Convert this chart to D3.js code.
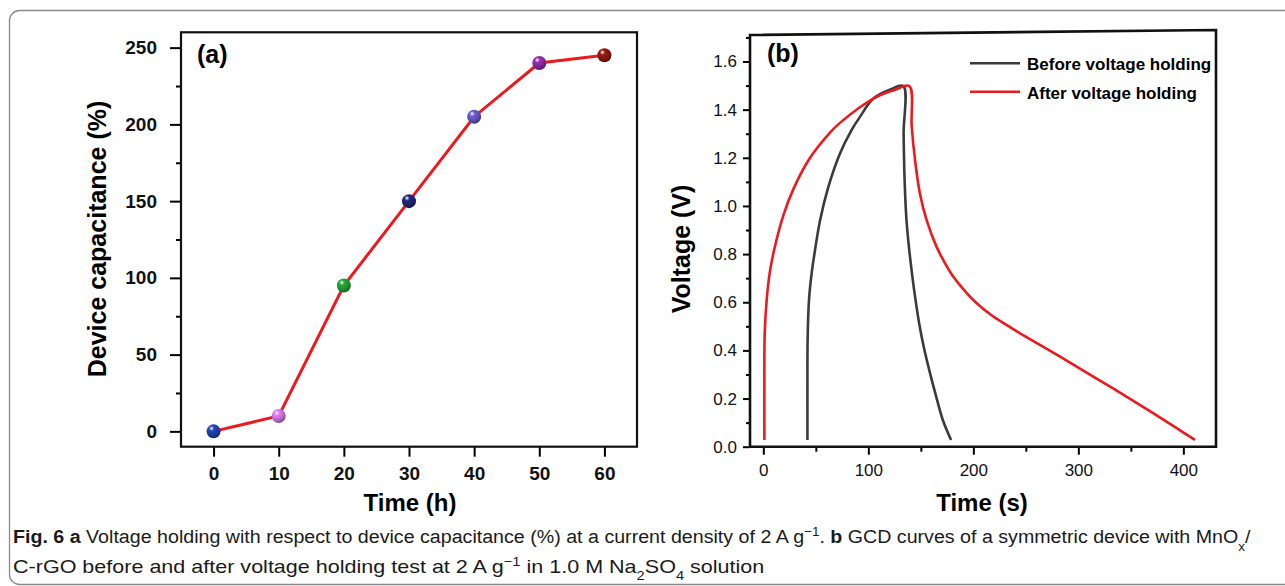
<!DOCTYPE html>
<html>
<head>
<meta charset="utf-8">
<script src="https://d3js.org/d3.v7.min.js"></script>
<style>
  body { margin: 0; background: #fff; }
  svg { display: block; font-family: "Liberation Sans", Arial, sans-serif; }
</style>
</head>
<body>
<div id="chart"></div>
<script>
// panel (a) data
var timeH = [0, 10, 20, 30, 40, 50, 60];
var capPct = [0, 10, 95, 150, 205, 240, 245];
var capTicks = [0, 50, 100, 150, 200, 250];
var hourTicks = [0, 10, 20, 30, 40, 50, 60];

// panel (b) data: GCD curves (charge then discharge)
var beforeT = [42, 42, 42.2, 43.5, 46, 49.2, 54, 62, 73, 84, 92, 105, 121, 133.3,
  133.6, 134.6, 136.2, 138.4, 141, 144.6, 148.5, 153, 158.5, 164.5, 171, 178.8];
var beforeV = [0.028, 0.2, 0.45, 0.61, 0.72, 0.816, 0.94, 1.08, 1.218, 1.315, 1.37, 1.447, 1.484, 1.498,
  1.30, 1.10, 0.95, 0.84, 0.74, 0.62, 0.51, 0.41, 0.31, 0.21, 0.11, 0.028];
var afterT = [1.0, 1.0, 1.3, 3.2, 6, 10.2, 19, 28.6, 44.5, 63.5, 73, 92, 111, 125, 139,
  141.3, 144.5, 149.2, 155.6, 165, 171.4, 180, 190, 203, 216.7, 230, 243, 281, 319, 357, 393.7, 411];
var afterV = [0.028, 0.25, 0.47, 0.61, 0.72, 0.816, 0.96, 1.07, 1.20, 1.305, 1.345, 1.41, 1.46, 1.482, 1.498,
  1.33, 1.19, 1.05, 0.94, 0.83, 0.775, 0.712, 0.657, 0.597, 0.548, 0.510, 0.475, 0.378, 0.279, 0.178, 0.077, 0.028];
var voltTicks = [0, 0.2, 0.4, 0.6, 0.8, 1.0, 1.2, 1.4, 1.6];
var secTicks = [0, 100, 200, 300, 400];
var seriesNames = ['Before voltage holding', 'After voltage holding'];

var ballColors = ['#1c3a9a', '#b565c8', '#1e8a2e', '#1c2266', '#5a4aa8', '#7b2590', '#7a1410'];

var svg = d3.select('#chart').append('svg')
  .attr('width', 1285)
  .attr('height', 586);

// outer card frame
svg.append('rect')
  .attr('x', 9.5).attr('y', 10.5)
  .attr('width', 1300).attr('height', 574)
  .attr('rx', 10)
  .attr('fill', 'none')
  .attr('stroke', '#8a8a8a')
  .attr('stroke-width', 1.3);

var defs = svg.append('defs');
ballColors.forEach(function(c, i) {
  var g = defs.append('radialGradient')
    .attr('id', 'ball' + i)
    .attr('cx', '38%').attr('cy', '32%').attr('r', '65%')
    .attr('fx', '35%').attr('fy', '28%');
  g.append('stop').attr('offset', '0%').attr('stop-color', '#ffffff');
  g.append('stop').attr('offset', '28%').attr('stop-color', d3.color(c).brighter(0.6));
  g.append('stop').attr('offset', '75%').attr('stop-color', c);
  g.append('stop').attr('offset', '100%').attr('stop-color', d3.color(c).darker(0.8));
});

// ---------- panel (a) ----------
var xA = d3.scaleLinear().domain([-5, 65]).range([181, 637]);
var yA = d3.scaleLinear().domain([-10, 260]).range([446.7, 32.3]);

var gA = svg.append('g');

// minor y ticks
gA.append('g')
  .attr('transform', 'translate(181,0)')
  .call(d3.axisLeft(yA).tickValues(d3.range(25, 250, 50)).tickSize(5).tickFormat(''))
  .call(function(g) { g.select('.domain').remove(); })
  .selectAll('line').attr('stroke-width', 2);

gA.append('g')
  .attr('transform', 'translate(181,0)')
  .call(d3.axisLeft(yA).tickValues(capTicks).tickSize(11).tickPadding(13))
  .call(function(g) { g.select('.domain').remove(); })
  .call(function(g) {
    g.selectAll('line').attr('stroke-width', 2);
    g.selectAll('text').attr('font-size', 19).attr('font-weight', 'bold')
      .attr('font-family', '"Liberation Sans", Arial, sans-serif').attr('fill', '#111');
  });

gA.append('g')
  .attr('transform', 'translate(0,446.7)')
  .call(d3.axisBottom(xA).tickValues(hourTicks).tickSize(10).tickPadding(10))
  .call(function(g) { g.select('.domain').remove(); })
  .call(function(g) {
    g.selectAll('line').attr('stroke-width', 2);
    g.selectAll('text').attr('font-size', 19).attr('font-weight', 'bold')
      .attr('font-family', '"Liberation Sans", Arial, sans-serif').attr('fill', '#111');
  });

gA.append('rect')
  .attr('x', xA.range()[0]).attr('y', yA.range()[1])
  .attr('width', xA.range()[1] - xA.range()[0])
  .attr('height', yA.range()[0] - yA.range()[1])
  .attr('fill', 'none').attr('stroke', '#111').attr('stroke-width', 2.2);

var ptsA = timeH.map(function(t, i) { return [t, capPct[i]]; });
gA.append('path')
  .datum(ptsA)
  .attr('fill', 'none')
  .attr('stroke', '#ec1a1f')
  .attr('stroke-width', 3)
  .attr('d', d3.line().x(function(d) { return xA(d[0]); }).y(function(d) { return yA(d[1]); }));

gA.selectAll('circle.ball')
  .data(ptsA)
  .enter()
  .append('circle')
  .attr('class', 'ball')
  .attr('cx', function(d) { return xA(d[0]); })
  .attr('cy', function(d) { return yA(d[1]); })
  .attr('r', 7)
  .attr('fill', function(d, i) { return 'url(#ball' + i + ')'; });

gA.append('text')
  .attr('x', 197).attr('y', 63)
  .attr('font-size', 25).attr('font-weight', 'bold')
  .text('(a)');

gA.append('text')
  .attr('transform', 'translate(106,239) rotate(-90)')
  .attr('text-anchor', 'middle')
  .attr('font-size', 25).attr('font-weight', 'bold')
  .text('Device capacitance (%)');

gA.append('text')
  .attr('x', 410).attr('y', 511)
  .attr('text-anchor', 'middle')
  .attr('font-size', 24).attr('font-weight', 'bold')
  .text('Time (h)');

// ---------- panel (b) ----------
var xB = d3.scaleLinear().domain([-12.7, 431.1]).range([750, 1216]);
var yB = d3.scaleLinear().domain([0, 1.6]).range([446.7, 61.5]);

var gB = svg.append('g');

// minor ticks
gB.append('g')
  .attr('transform', 'translate(750,0)')
  .call(d3.axisLeft(yB).tickValues(d3.range(0.1, 1.75, 0.2)).tickSize(4).tickFormat(''))
  .call(function(g) { g.select('.domain').remove(); g.selectAll('line').attr('stroke-width', 2); });

gB.append('g')
  .attr('transform', 'translate(750,0)')
  .call(d3.axisLeft(yB).tickValues(voltTicks).tickSize(7).tickPadding(6).tickFormat(d3.format('.1f')))
  .call(function(g) {
    g.select('.domain').remove();
    g.selectAll('line').attr('stroke-width', 2);
    g.selectAll('text').attr('font-size', 17)
      .attr('font-family', '"Liberation Sans", Arial, sans-serif').attr('fill', '#111');
  });

gB.append('g')
  .attr('transform', 'translate(0,446.7)')
  .call(d3.axisBottom(xB).tickValues(d3.range(50, 431, 100)).tickSize(5).tickFormat(''))
  .call(function(g) { g.select('.domain').remove(); g.selectAll('line').attr('stroke-width', 2); });

gB.append('g')
  .attr('transform', 'translate(0,446.7)')
  .call(d3.axisBottom(xB).tickValues(secTicks).tickSize(8).tickPadding(9))
  .call(function(g) {
    g.select('.domain').remove();
    g.selectAll('line').attr('stroke-width', 2);
    g.selectAll('text').attr('font-size', 17)
      .attr('font-family', '"Liberation Sans", Arial, sans-serif').attr('fill', '#111');
  });

// frame (top edge slightly tilted as in the scan)
var bx0 = xB.range()[0], bx1 = xB.range()[1], by0 = yB.range()[0];
gB.append('path')
  .attr('d', 'M' + bx0 + ',' + by0 + 'L' + bx0 + ',35L' + bx1 + ',30L' + bx1 + ',' + by0 + 'Z')
  .attr('fill', 'none').attr('stroke', '#111').attr('stroke-width', 2.6);

var lineB = d3.line()
  .curve(d3.curveCatmullRom.alpha(0.5))
  .x(function(d) { return xB(d[0]); })
  .y(function(d) { return yB(d[1]); });

var curves = [
  { name: seriesNames[0], color: '#3b3b3b', pts: beforeT.map(function(t, i) { return [t, beforeV[i]]; }) },
  { name: seriesNames[1], color: '#ec1a1f', pts: afterT.map(function(t, i) { return [t, afterV[i]]; }) }
];

gB.selectAll('path.gcd')
  .data(curves)
  .enter()
  .append('path')
  .attr('class', 'gcd')
  .attr('fill', 'none')
  .attr('stroke', function(d) { return d.color; })
  .attr('stroke-width', 2.6)
  .attr('stroke-linejoin', 'round')
  .attr('d', function(d) { return lineB(d.pts); });

// legend
var leg = gB.selectAll('g.leg')
  .data(curves)
  .enter()
  .append('g')
  .attr('class', 'leg')
  .attr('transform', function(d, i) { return 'translate(970,' + (63.3 + i * 28.4) + ')'; });
leg.append('line')
  .attr('x1', 0).attr('x2', 50)
  .attr('stroke', function(d) { return d.color; })
  .attr('stroke-width', 2.6);
leg.append('text')
  .attr('x', 57).attr('y', 7)
  .attr('font-size', 17).attr('font-weight', 'bold')
  .text(function(d) { return d.name; });

gB.append('text')
  .attr('x', 767).attr('y', 62)
  .attr('font-size', 25).attr('font-weight', 'bold')
  .text('(b)');

gB.append('text')
  .attr('transform', 'translate(690,249) rotate(-90)')
  .attr('text-anchor', 'middle')
  .attr('font-size', 25).attr('font-weight', 'bold')
  .text('Voltage (V)');

gB.append('text')
  .attr('x', 982).attr('y', 511)
  .attr('text-anchor', 'middle')
  .attr('font-size', 24).attr('font-weight', 'bold')
  .text('Time (s)');

// ---------- caption ----------
var capFont = '"Liberation Sans", Arial, sans-serif';
function caption(y, parts, width) {
  var t = svg.append('text')
    .attr('x', 0).attr('y', 0)
    .attr('font-family', capFont)
    .attr('font-size', 19)
    .attr('fill', '#1a1a1a');
  parts.forEach(function(p) {
    var s = t.append('tspan').text(p.s);
    if (p.b) s.attr('font-weight', 'bold');
    if (p.sup) s.attr('baseline-shift', 'super').attr('font-size', 13);
    if (p.sub) s.attr('baseline-shift', 'sub').attr('font-size', 13);
  });
  var w = t.node().getComputedTextLength();
  t.attr('transform', 'translate(13,' + y + ') scale(' + (width / w) + ',1)');
}
caption(543, [
  { s: 'Fig. 6', b: true }, { s: '  ' }, { s: 'a', b: true },
  { s: ' Voltage holding with respect to device capacitance (%) at a current density of 2 A g' },
  { s: '\u22121', sup: true }, { s: '. ' }, { s: 'b', b: true },
  { s: ' GCD curves of a symmetric device with MnO' }, { s: 'x', sub: true }, { s: '/' }
], 1238);
caption(573, [
  { s: 'C-rGO before and after voltage holding test at 2 A g' }, { s: '\u22121', sup: true },
  { s: ' in 1.0 M Na' }, { s: '2', sub: true }, { s: 'SO' }, { s: '4', sub: true }, { s: ' solution' }
], 752);
</script>
</body>
</html>
